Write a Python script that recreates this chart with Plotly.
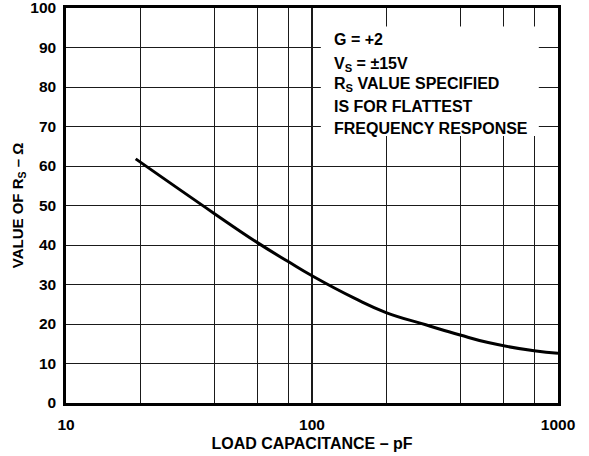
import plotly.graph_objects as go

# Recommended series resistance vs load capacitance
load_cap_pf = [19.2, 40, 60, 80, 100, 150, 200, 290, 400, 520, 800, 1000]
rs_ohms = [61.8, 48.0, 40.6, 35.8, 32.2, 26.4, 22.9, 19.8, 17.2, 15.3, 13.2, 12.6]

x_tick_vals = [10, 100, 1000]
x_tick_text = ["10", "100", "1000"]
x_minor_grid = [20, 40, 60, 80, 200, 400, 600, 800]
y_tick_vals = list(range(0, 101, 10))

note_lines = [
    "G = +2",
    "V<sub>S</sub> = ±15V",
    "R<sub>S</sub> VALUE SPECIFIED",
    "IS FOR FLATTEST",
    "FREQUENCY RESPONSE",
]

FONT = "Liberation Sans, Arial, sans-serif"

fig = go.Figure()
fig.add_trace(go.Scatter(
    x=load_cap_pf, y=rs_ohms, mode="lines",
    line=dict(color="black", width=3, shape="spline", smoothing=1.3),
    hoverinfo="skip", showlegend=False,
))

fig.update_layout(
    width=589, height=456,
    margin=dict(l=66, r=31, t=8, b=53),
    paper_bgcolor="white", plot_bgcolor="white",
    font=dict(family=FONT, color="black", size=15.5),
    xaxis=dict(
        type="log", range=[1, 3], automargin=False,
        ticklabeloverflow="allow",
        tickmode="array", tickvals=x_tick_vals, ticktext=x_tick_text,
        tickfont=dict(size=15.5, family=FONT, weight="bold"),
        ticks="outside", ticklen=6, tickcolor="rgba(0,0,0,0)",
        showgrid=True, gridcolor="#1a1a1a", gridwidth=2,
        minor=dict(tickmode="array", tickvals=x_minor_grid, showgrid=True,
                   gridcolor="#1a1a1a", gridwidth=1.3, ticks=""),
        showline=True, linecolor="black", linewidth=2.5, mirror=True,
        zeroline=False,
        title=dict(text="LOAD CAPACITANCE – pF", standoff=6,
                   font=dict(size=16, family=FONT, weight="bold")),
    ),
    yaxis=dict(
        range=[0, 100], automargin=False,
        ticklabeloverflow="allow",
        tickmode="array", tickvals=y_tick_vals,
        tickfont=dict(size=15.5, family=FONT, weight="bold"),
        ticks="outside", ticklen=4, tickcolor="rgba(0,0,0,0)",
        showgrid=True, gridcolor="#1a1a1a", gridwidth=1.3,
        showline=True, linecolor="black", linewidth=2.5, mirror=True,
        zeroline=False,
        title=dict(text="VALUE OF R<sub>S</sub> – Ω", standoff=4,
                   font=dict(size=15, family=FONT, weight="bold")),
    ),
)

# White panel behind the operating-condition notes
fig.add_shape(type="rect", xref="paper", yref="paper",
              x0=0.518, x1=0.961, y0=0.676, y1=0.953,
              fillcolor="white", line=dict(width=0), layer="above")

note_y = [0.919, 0.857, 0.807, 0.750, 0.695]
for text, yy in zip(note_lines, note_y):
    fig.add_annotation(xref="paper", yref="paper", x=0.541, y=yy,
                       xanchor="left", yanchor="middle", showarrow=False,
                       text=text, align="left",
                       font=dict(size=16, family=FONT, weight="bold", color="black"))

fig.write_html("out.html")
